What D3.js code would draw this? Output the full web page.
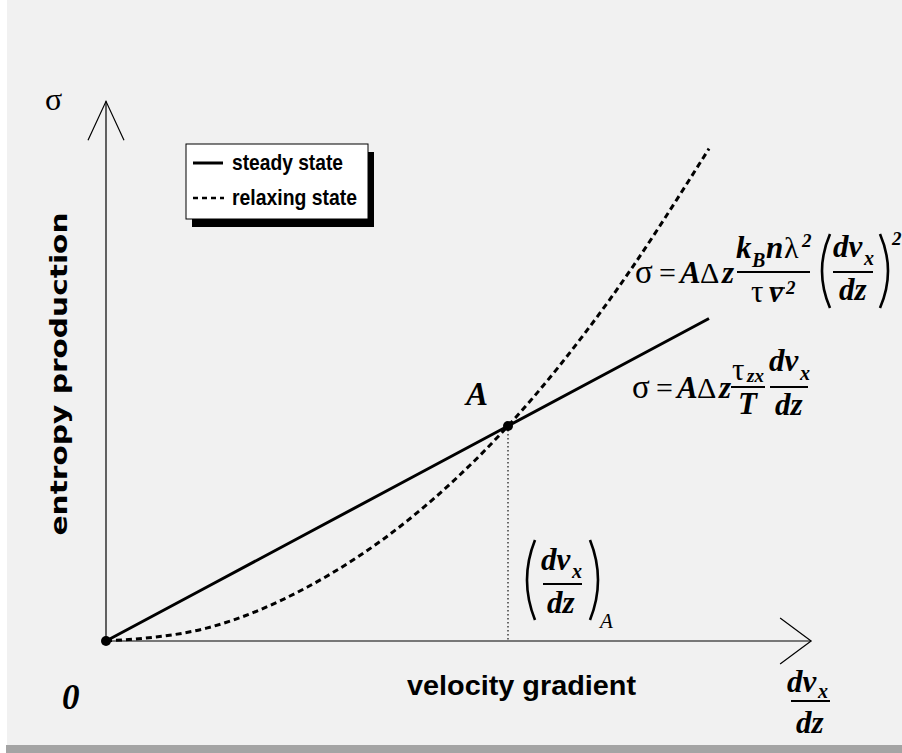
<!DOCTYPE html>
<html lang="en">
<head>
    <meta charset="UTF-8">
    <title>Entropy production vs velocity gradient</title>
    <style>
        body {
            margin: 0;
            background: #ffffff;
        }
        svg {
            display: block;
        }
        .math {
            font-family: 'Liberation Serif', 'Times New Roman', serif;
            font-style: italic;
            font-weight: bold;
        }
        .greek {
            font-family: 'Liberation Serif', 'Times New Roman', serif;
            font-style: normal;
            font-weight: normal;
        }
    </style>
</head>
<body>
    <svg id="chart" width="902" height="753"></svg>

    <script src="https://d3js.org/d3.v7.min.js"></script>
    <script>
        // velocity gradient (x) in units of (dv_x/dz)_A
        const gradient = [0, 0.25, 0.5, 0.75, 1.0, 1.25, 1.5];
        // steady state: linear, relaxing state: grows faster, both meet at A
        const steadyState = [0, 0.25, 0.5, 0.75, 1.0, 1.25, 1.5];
        const relaxingState = [0, 0.06, 0.25, 0.56, 1.0, 1.58, 2.29];
        const pointA = { x: 1.0, y: 1.0 };
        const legendLabels = ['steady state', 'relaxing state'];

        const svg = d3.select('#chart');

        // panel + shadow strip
        svg.append('rect').attr('x', 7).attr('y', 0).attr('width', 895).attr('height', 745).attr('fill', '#f1f1f1');
        svg.append('rect').attr('x', 6).attr('y', 745).attr('width', 896).attr('height', 8).attr('fill', '#a4a4a4');

        const x = d3.scaleLinear().domain([0, 1]).range([106, 508]);
        const y = d3.scaleLinear().domain([0, 1]).range([641, 426]);
        const xMax = 1.754, yMax = 2.51;

        // axes with open arrowheads
        svg.append('line')
            .attr('x1', x(0)).attr('y1', y(0)).attr('x2', x(xMax)).attr('y2', y(0))
            .attr('stroke', '#000').attr('stroke-width', 1.2);
        svg.append('line')
            .attr('x1', x(0)).attr('y1', y(0)).attr('x2', x(0)).attr('y2', y(yMax))
            .attr('stroke', '#000').attr('stroke-width', 1.2);
        svg.append('path')
            .attr('d', `M${x(xMax) - 31},${y(0) - 23} L${x(xMax)},${y(0)} L${x(xMax) - 31},${y(0) + 23}`)
            .attr('fill', 'none').attr('stroke', '#000').attr('stroke-width', 1.2);
        svg.append('path')
            .attr('d', `M${x(0) - 18},${y(yMax) + 39} L${x(0)},${y(yMax)} L${x(0) + 18},${y(yMax) + 39}`)
            .attr('fill', 'none').attr('stroke', '#000').attr('stroke-width', 1.2);

        // dotted drop line from A
        svg.append('line')
            .attr('x1', x(pointA.x)).attr('y1', y(pointA.y)).attr('x2', x(pointA.x)).attr('y2', y(0))
            .attr('stroke', '#222').attr('stroke-width', 1.3).attr('stroke-dasharray', '1.5,2.5');

        const lineSteady = d3.line().x((d, i) => x(gradient[i])).y(d => y(d));
        const lineRelax = d3.line().x((d, i) => x(gradient[i])).y(d => y(d)).curve(d3.curveMonotoneX);

        svg.append('path').attr('d', lineRelax(relaxingState))
            .attr('fill', 'none').attr('stroke', '#000').attr('stroke-width', 3)
            .attr('stroke-dasharray', '6,4');
        svg.append('path').attr('d', lineSteady(steadyState))
            .attr('fill', 'none').attr('stroke', '#000').attr('stroke-width', 3);

        svg.append('circle').attr('cx', x(0)).attr('cy', y(0)).attr('r', 5).attr('fill', '#000');
        svg.append('circle').attr('cx', x(pointA.x)).attr('cy', y(pointA.y)).attr('r', 5).attr('fill', '#000');

        // legend
        svg.append('rect').attr('x', 192).attr('y', 152).attr('width', 182).attr('height', 75).attr('fill', '#000');
        svg.append('rect').attr('x', 186).attr('y', 144).attr('width', 182).attr('height', 75)
            .attr('fill', '#fff').attr('stroke', '#000').attr('stroke-width', 1);
        svg.append('line').attr('x1', 193).attr('x2', 223).attr('y1', 163).attr('y2', 163)
            .attr('stroke', '#000').attr('stroke-width', 3);
        svg.append('line').attr('x1', 193).attr('x2', 224).attr('y1', 198).attr('y2', 198)
            .attr('stroke', '#000').attr('stroke-width', 2.5).attr('stroke-dasharray', '5,4');
        const legendWidths = [111, 125];
        legendLabels.forEach((label, i) => {
            svg.append('text')
                .attr('x', 232).attr('y', 170 + i * 35)
                .attr('font-family', "'Liberation Sans', Arial, sans-serif")
                .attr('font-weight', 'bold').attr('font-size', 22)
                .attr('textLength', legendWidths[i]).attr('lengthAdjust', 'spacingAndGlyphs')
                .text(label);
        });

        // axis titles
        svg.append('text')
            .attr('transform', 'translate(67,374) rotate(-90)')
            .attr('text-anchor', 'middle')
            .attr('font-family', "'DejaVu Sans', Verdana, sans-serif")
            .attr('font-weight', 'bold').attr('font-size', 23)
            .attr('textLength', 323).attr('lengthAdjust', 'spacingAndGlyphs')
            .text('entropy production');
        svg.append('text')
            .attr('x', 407).attr('y', 695)
            .attr('font-family', "'Liberation Sans', Arial, sans-serif")
            .attr('font-weight', 'bold').attr('font-size', 27)
            .attr('textLength', 229).attr('lengthAdjust', 'spacingAndGlyphs')
            .text('velocity gradient');

        // math helpers
        function m(px, py, str, size, cls) {
            svg.append('text').attr('class', cls || 'math')
                .attr('x', px).attr('y', py).attr('font-size', size || 31).text(str);
        }
        function bar(x1, x2, py, w) {
            svg.append('line').attr('x1', x1).attr('x2', x2).attr('y1', py).attr('y2', py)
                .attr('stroke', '#000').attr('stroke-width', w || 2);
        }
        function paren(px, y1, y2, dir) {
            const bulge = 16 * dir;
            svg.append('path')
                .attr('d', `M${px},${y1} Q${px - bulge},${(y1 + y2) / 2} ${px},${y2}`)
                .attr('fill', 'none').attr('stroke', '#000').attr('stroke-width', 2.6);
        }

        m(45, 110, 'σ', 32, 'greek');
        m(62, 709, '0', 35);
        m(x(pointA.x) - 42, y(pointA.y) - 21, 'A', 33);

        // σ = AΔz k_B n λ² / (τ v̄²) (dv_x/dz)²
        m(635, 283, 'σ', 33, 'greek');
        m(659, 283, '=', 30, 'greek');
        m(680, 283, 'A');
        m(700, 283, 'Δ', 30, 'greek');
        m(722, 283, 'z');
        bar(737, 810, 272);
        m(736, 258, 'k');
        m(752, 267, 'B', 20);
        m(766, 258, 'n');
        m(784, 258, 'λ', 30, 'greek');
        m(802, 247, '2', 19);
        m(751, 302, 'τ', 31, 'greek');
        m(769, 302, 'v');
        bar(772, 785, 288, 1.5);
        m(786, 294, '2', 19);
        paren(830, 234, 308, 1);
        m(833, 257, 'dv');
        m(864, 265, 'x', 20);
        bar(833, 873, 272);
        m(839, 300, 'dz');
        paren(880, 234, 308, -1);
        m(892, 245, '2', 19);

        // σ = AΔz τ_zx/T dv_x/dz
        m(632, 398, 'σ', 33, 'greek');
        m(656, 398, '=', 30, 'greek');
        m(677, 398, 'A');
        m(697, 398, 'Δ', 30, 'greek');
        m(719, 398, 'z');
        m(732, 380, 'τ', 31, 'greek');
        m(747, 382, 'zx', 19);
        bar(731, 765, 387);
        m(738, 414, 'T');
        m(769, 371, 'dv');
        m(800, 380, 'x', 20);
        bar(770, 808, 387);
        m(775, 415, 'dz');

        // (dv_x/dz)_A
        paren(535, 540, 620, 1);
        m(541, 570, 'dv');
        m(572, 578, 'x', 20);
        bar(543, 582, 584);
        m(547, 613, 'dz');
        paren(590, 540, 620, -1);
        svg.append('text').attr('x', 600).attr('y', 628)
            .attr('font-family', "'Liberation Serif', 'Times New Roman', serif")
            .attr('font-style', 'italic').attr('font-size', 21).text('A');

        // x-axis unit dv_x/dz
        m(787, 692, 'dv');
        m(818, 698, 'x', 20);
        bar(791, 830, 701);
        m(796, 733, 'dz');
    </script>
</body>
</html>
